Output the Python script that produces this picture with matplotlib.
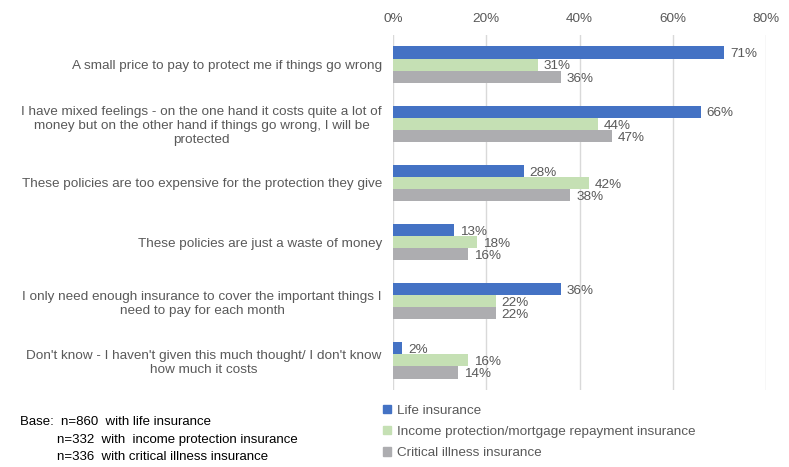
import matplotlib
matplotlib.use("Agg")
import matplotlib.pyplot as plt
import numpy as np
from matplotlib.patches import Patch

plt.rcParams['font.family'] = ['Liberation Sans', 'DejaVu Sans']

statements = [
    "A small price to pay to protect me if things go wrong",
    "I have mixed feelings - on the one hand it costs quite a lot of\nmoney but on the other hand if things go wrong, I will be\nprotected",
    "These policies are too expensive for the protection they give",
    "These policies are just a waste of money",
    "I only need enough insurance to cover the important things I\nneed to pay for each month",
    "Don't know - I haven't given this much thought/ I don't know\nhow much it costs",
]
series = ["Life insurance",
          "Income protection/mortgage repayment insurance",
          "Critical illness insurance"]
life = [71, 66, 28, 13, 36, 2]
income = [31, 44, 42, 18, 22, 16]
critical = [36, 47, 38, 16, 22, 14]
colors = ["#4472C4", "#C5E0B4", "#ADADB0"]
base_note = ["Base:  n=860  with life insurance",
             "n=332  with  income protection insurance",
             "n=336  with critical illness insurance"]

txt = "#595959"
fig = plt.figure(figsize=(7.89, 4.67), dpi=100)
ax = fig.add_axes([0.498, 0.165, 0.473, 0.76])

y = np.arange(len(statements))
h = 0.205
for k, (vals, c) in enumerate(zip([life, income, critical], colors)):
    pos = y + (k - 1) * h
    ax.barh(pos, vals, height=h, color=c, zorder=2)
    for p, v in zip(pos, vals):
        ax.text(v + 1.3, p + 0.03, f"{v}%", va="center", ha="left", fontsize=9.7, color=txt)

ax.set_xlim(0, 80)
ax.set_ylim(len(statements) - 0.5, -0.5)
ax.set_xticks(range(0, 81, 20))
ax.set_xticklabels([f"{t}%" for t in range(0, 81, 20)])
ax.xaxis.tick_top()
ax.tick_params(axis="x", length=0, pad=7, labelsize=9.7, labelcolor=txt)
ax.set_yticks(y)
ax.set_yticklabels(statements, multialignment="center")
ax.tick_params(axis="y", length=0, pad=8, labelsize=9.7, labelcolor=txt)
ax.grid(axis="x", color="#D9D9D9", lw=1, zorder=0)
for s in ax.spines.values():
    s.set_visible(False)

handles = [Patch(color=c, label=s) for c, s in zip(colors, series)]
leg = fig.legend(handles=handles, loc="upper left", bbox_to_anchor=(0.479, 0.145),
                 frameon=False, fontsize=9.7, handlelength=0.6, handleheight=0.6,
                 handletextpad=0.4, labelspacing=0.68, borderaxespad=0)
for t in leg.get_texts():
    t.set_color(txt)

fig.text(0.025, 0.096, base_note[0], fontsize=9.5, color="black", va="center")
fig.text(0.072, 0.057, base_note[1], fontsize=9.5, color="black", va="center")
fig.text(0.072, 0.021, base_note[2], fontsize=9.5, color="black", va="center")

fig.savefig("out.png", dpi=100)
